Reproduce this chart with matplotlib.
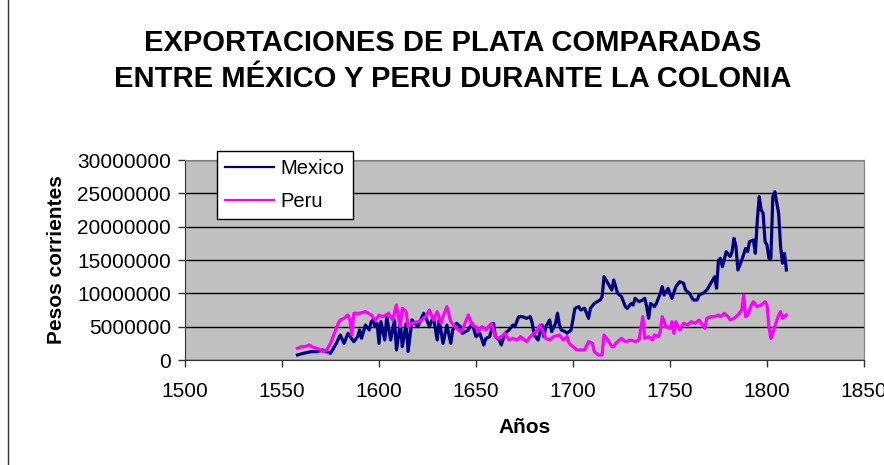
import matplotlib.pyplot as plt
from matplotlib.lines import Line2D

plt.rcParams['font.family'] = ['Liberation Sans', 'DejaVu Sans']

# exportaciones de plata, pesos corrientes (millones)
mexico_years = [1558, 1561, 1565, 1568, 1571, 1573, 1575, 1578, 1580, 1582, 1584, 1587, 1589,
                1590, 1591, 1593, 1595, 1596, 1597, 1598, 1599, 1600, 1601, 1603, 1604, 1606,
                1608, 1609, 1611, 1612, 1614, 1615, 1617, 1620, 1623, 1624, 1626, 1628, 1630,
                1631, 1633, 1635, 1637, 1638, 1640, 1642, 1643, 1646, 1648, 1650, 1652, 1654,
                1655, 1657, 1659, 1660, 1662, 1663, 1665, 1667, 1669, 1670, 1672, 1674, 1676,
                1678, 1679, 1680, 1682, 1684, 1685, 1686, 1688, 1689, 1691, 1692, 1693, 1694,
                1696, 1697, 1699, 1701, 1703, 1704, 1706, 1708, 1709, 1711, 1714, 1715, 1716,
                1718, 1720, 1721, 1723, 1725, 1727, 1728, 1730, 1731, 1732, 1734, 1736, 1737,
                1738, 1739, 1740, 1742, 1743, 1745, 1746, 1747, 1749, 1751, 1753, 1755, 1757,
                1758, 1760, 1762, 1764, 1765, 1767, 1769, 1771, 1773, 1774, 1775, 1776, 1777,
                1779, 1781, 1782, 1783, 1784, 1785, 1787, 1789, 1790, 1791, 1793, 1794, 1795,
                1796, 1797, 1798, 1799, 1800, 1801, 1802, 1803, 1804, 1806, 1807, 1808, 1809,
                1810]
mexico_vals = [0.75, 1.0, 1.25, 1.25, 1.5, 1.25, 1.0, 2.5, 3.75, 2.5, 4.0, 2.75, 3.5,
               4.5, 3.25, 5.25, 4.5, 5.75, 6.0, 5.0, 5.5, 2.5, 5.75, 3.0, 6.5, 3.0,
               6.0, 1.5, 5.5, 2.0, 5.5, 1.25, 6.0, 5.0, 7.0, 6.5, 5.0, 6.5, 3.0,
               6.0, 2.5, 5.25, 2.5, 4.5, 5.5, 5.0, 4.0, 4.5, 5.5, 3.5, 4.0, 2.25,
               3.2, 3.5, 5.5, 3.5, 3.0, 2.25, 4.0, 4.5, 5.25, 5.0, 6.5, 6.5, 6.25,
               6.5, 5.5, 3.75, 3.0, 5.25, 3.5, 5.0, 6.0, 4.25, 5.5, 7.0, 5.25, 4.5,
               4.25, 4.0, 4.5, 7.75, 8.0, 7.5, 7.75, 6.25, 7.75, 8.5, 9.0, 9.5, 12.5,
               11.5, 10.5, 12.0, 10.0, 9.5, 8.0, 7.75, 8.5, 8.25, 9.25, 8.75, 9.0, 9.25,
               8.0, 6.25, 8.5, 8.0, 8.5, 10.0, 11.0, 9.75, 10.75, 9.25, 11.0, 11.75, 11.5,
               10.5, 10.0, 9.0, 9.0, 9.75, 10.0, 10.5, 11.5, 12.5, 10.75, 15.0, 15.25, 14.0,
               16.25, 15.5, 16.25, 18.25, 17.0, 13.5, 15.0, 16.75, 16.25, 17.75, 18.0, 16.0, 21.0,
               24.5, 22.5, 22.0, 17.75, 17.25, 15.25, 15.25, 24.5, 25.25, 22.0, 17.0, 14.5, 16.0,
               13.5]

peru_years = [1558, 1560, 1562, 1564, 1566, 1568, 1570, 1571, 1573, 1575, 1577, 1579, 1580,
              1582, 1584, 1585, 1586, 1587, 1590, 1593, 1596, 1598, 1599, 1600, 1602, 1605,
              1607, 1609, 1610, 1611, 1612, 1614, 1615, 1617, 1620, 1622, 1624, 1626, 1628,
              1630, 1632, 1633, 1635, 1637, 1640, 1642, 1643, 1645, 1646, 1648, 1650, 1651,
              1653, 1655, 1658, 1660, 1662, 1665, 1667, 1669, 1671, 1673, 1676, 1678, 1681,
              1683, 1685, 1686, 1688, 1690, 1693, 1695, 1697, 1698, 1700, 1702, 1706, 1708,
              1710, 1711, 1713, 1715, 1716, 1718, 1720, 1721, 1722, 1725, 1727, 1730, 1732,
              1734, 1735, 1736, 1737, 1739, 1741, 1742, 1744, 1745, 1746, 1748, 1750, 1751,
              1752, 1753, 1755, 1757, 1759, 1761, 1763, 1765, 1768, 1769, 1771, 1773, 1775,
              1776, 1778, 1780, 1781, 1783, 1785, 1787, 1788, 1789, 1790, 1792, 1793, 1795,
              1797, 1799, 1800, 1801, 1802, 1803, 1804, 1806, 1807, 1808, 1810]
peru_vals = [1.75, 2.0, 2.0, 2.25, 1.9, 1.75, 1.5, 1.25, 1.5, 2.5, 4.0, 5.5, 6.0,
             6.25, 6.75, 6.0, 3.75, 7.0, 7.0, 7.25, 6.75, 6.0, 6.25, 6.75, 6.5, 7.0,
             6.0, 8.25, 6.5, 5.0, 7.75, 7.25, 5.0, 5.5, 5.75, 6.0, 6.5, 7.5, 6.0,
             7.25, 5.5, 6.5, 8.0, 5.75, 4.75, 4.25, 4.5, 6.0, 6.75, 5.25, 5.0, 4.25,
             5.0, 4.5, 5.5, 3.5, 3.25, 4.0, 3.0, 3.25, 3.0, 3.5, 2.75, 3.5, 4.25,
             5.25, 4.0, 3.25, 3.0, 3.5, 3.75, 3.0, 3.5, 2.5, 2.0, 1.5, 1.5, 2.75,
             2.5, 1.25, 0.75, 0.75, 3.75, 3.0, 2.0, 2.0, 2.5, 3.25, 2.75, 3.0, 2.75,
             3.0, 4.75, 6.5, 3.25, 3.5, 3.0, 3.75, 3.5, 4.25, 6.5, 5.0, 4.75, 5.75,
             4.0, 5.75, 4.5, 5.5, 5.25, 5.75, 5.5, 6.0, 4.75, 6.25, 6.5, 6.5, 6.75,
             6.5, 7.0, 6.5, 6.0, 6.25, 6.75, 7.5, 9.75, 6.5, 6.75, 8.25, 8.75, 8.0,
             8.25, 8.75, 8.25, 5.0, 3.25, 4.0, 5.0, 6.75, 7.25, 6.25, 6.75]

x_ticks = [1500, 1550, 1600, 1650, 1700, 1750, 1800, 1850]
y_ticks = [0, 5000000, 10000000, 15000000, 20000000, 25000000, 30000000]

fig = plt.figure(figsize=(8.84, 4.65), dpi=100)
ax = fig.add_axes([185 / 884, 105 / 465, 679 / 884, 200 / 465])
ax.set_facecolor('#c0c0c0')

ax.plot(mexico_years, [v * 1e6 for v in mexico_vals], color='#000080', lw=2.3,
        solid_joinstyle='round', label='Mexico', zorder=3)
ax.plot(peru_years, [v * 1e6 for v in peru_vals], color='#ff00ff', lw=2.3,
        solid_joinstyle='round', label='Peru', zorder=3)

ax.set_xlim(1500, 1850)
ax.set_ylim(0, 30000000)
ax.set_xticks(x_ticks)
ax.set_yticks(y_ticks)
ax.set_xticklabels([str(t) for t in x_ticks])
ax.set_yticklabels([str(t) for t in y_ticks])
ax.tick_params(labelsize=15, length=5, width=1, color='#333333', pad=5)
ax.tick_params(axis='x', pad=11)
ax.yaxis.grid(True, color='black', lw=1)
ax.set_axisbelow(True)
for side in ['left', 'bottom']:
    ax.spines[side].set_color('#333333')
for side in ['top', 'right']:
    ax.spines[side].set_color('#808080')

ax.set_xlabel('Años', fontsize=15, fontweight='bold', labelpad=12)
ax.set_ylabel('Pesos corrientes', fontsize=15, fontweight='bold', labelpad=8)

leg = ax.legend(loc='upper left', bbox_to_anchor=((216.7 - 185) / 679, 1.045), fontsize=14.5,
                frameon=True, fancybox=False, framealpha=1, handlelength=2.45,
                borderpad=0.42, labelspacing=0.65, handletextpad=0.3, borderaxespad=0)
leg.get_frame().set_edgecolor('black')
leg.get_frame().set_linewidth(1)
for h in leg.get_lines():
    h.set_linewidth(1.6)

fig.text(0.512, 0.907, 'EXPORTACIONES DE PLATA COMPARADAS', ha='center', va='center',
         fontsize=21, fontweight='bold')
fig.text(0.512, 0.830, 'ENTRE MÉXICO Y PERU DURANTE LA COLONIA', ha='center', va='center',
         fontsize=21, fontweight='bold')

fig.add_artist(Line2D([8 / 884, 8 / 884], [0, 1], color='#333333', lw=1))

fig.savefig('out.png', dpi=100)
